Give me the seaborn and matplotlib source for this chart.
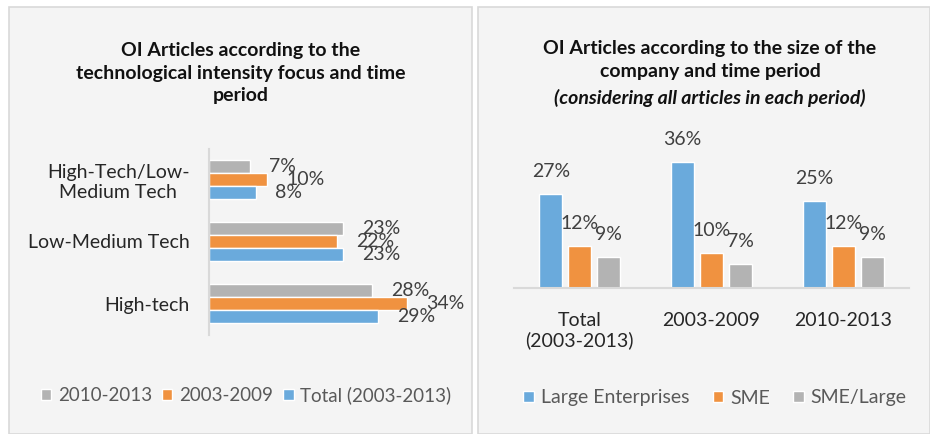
import numpy as np
import pandas as pd
import matplotlib.pyplot as plt
from matplotlib.patches import Rectangle
import seaborn as sns

# left chart: technological intensity
tech_cats = ["High-Tech/Low-\nMedium Tech", "Low-Medium Tech", "High-tech"]
tech_periods = ["2010-2013", "2003-2009", "Total (2003-2013)"]
tech_2010_2013 = [7, 23, 28]
tech_2003_2009 = [10, 22, 34]
tech_total = [8, 23, 29]

# right chart: company size
size_periods = ["Total\n(2003-2013)", "2003-2009", "2010-2013"]
size_groups = ["Large Enterprises", "SME", "SME/Large"]
size_large = [27, 36, 25]
size_sme = [12, 10, 12]
size_sme_large = [9, 7, 9]

BLUE = "#6AAADC"
ORANGE = "#F09240"
GRAY = "#B3B3B3"
BG = "#F4F4F4"

sns.set_theme(style="white")
plt.rcParams["font.family"] = ["Lato", "DejaVu Sans"]

W, H = 930, 434
fig = plt.figure(figsize=(W / 100, H / 100), dpi=100)
fig.patch.set_facecolor("white")

def px_rect(x0, y0, x1, y1):
    return [x0 / W, 1 - y1 / H, (x1 - x0) / W, (y1 - y0) / H]

# panel backgrounds
for x0, x1 in [(9, 472), (478, 930)]:
    fig.patches.append(Rectangle((x0 / W, 0), (x1 - x0) / W, 1 - 7 / H,
                                 transform=fig.transFigure, facecolor=BG,
                                 edgecolor="#D9D9D9", linewidth=1.2, zorder=-5))

# ---------------- left chart ----------------
df_tech = pd.DataFrame({
    "category": tech_cats * 3,
    "period": np.repeat(tech_periods, len(tech_cats)),
    "value": tech_2010_2013 + tech_2003_2009 + tech_total,
})

ax1 = fig.add_axes(px_rect(209, 148.5, 442, 334.5))
ax1.patch.set_alpha(0)
sns.barplot(data=df_tech, y="category", x="value", hue="period",
            hue_order=tech_periods, order=tech_cats,
            palette=[GRAY, ORANGE, BLUE], saturation=1, width=0.63,
            orient="h", ax=ax1, legend=True)
ax1.set_xlim(0, 40)
ax1.set_ylim(2.5, -0.5)
ax1.set_xlabel("")
ax1.set_ylabel("")
ax1.set_xticks([])
for s in ["top", "right", "bottom"]:
    ax1.spines[s].set_visible(False)
ax1.spines["left"].set_color("#D9D9D9")
ax1.spines["left"].set_linewidth(1.5)
ax1.tick_params(axis="y", length=0, pad=14, labelsize=14, labelcolor="#262626")
for lab in ax1.get_yticklabels():
    lab.set_multialignment("center")
for cont in ax1.containers:
    ax1.bar_label(cont, labels=[f"{v:.0f}%" for v in cont.datavalues],
                  padding=14, fontsize=14, color="#404040")

ax1.legend(loc="center", bbox_to_anchor=(246 / W, 1 - 395 / H),
           bbox_transform=fig.transFigure, ncol=3, frameon=False,
           handlelength=0.55, handleheight=0.55, handletextpad=0.35,
           columnspacing=0.55, fontsize=13.5, labelcolor="#595959")

fig.text(241 / W, 1 - 73 / H,
         "OI Articles according to the\ntechnological intensity focus and time\nperiod",
         ha="center", va="center", fontsize=14, fontweight="bold",
         color="#111111", linespacing=1.4)

# ---------------- right chart ----------------
df_size = pd.DataFrame({
    "period": size_periods * 3,
    "group": np.repeat(size_groups, len(size_periods)),
    "value": size_large + size_sme + size_sme_large,
})

ax2 = fig.add_axes(px_rect(514, 148, 909, 288))
ax2.patch.set_alpha(0)
sns.barplot(data=df_size, x="period", y="value", hue="group",
            hue_order=size_groups, order=size_periods,
            palette=[BLUE, ORANGE, GRAY], saturation=1, width=0.66, gap=0.2,
            ax=ax2, legend=True)
ax2.set_ylim(0, 40)
ax2.set_xlim(-0.5, 2.5)
ax2.set_xlabel("")
ax2.set_ylabel("")
ax2.set_yticks([])
for s in ["top", "right", "left"]:
    ax2.spines[s].set_visible(False)
ax2.spines["bottom"].set_color("#D9D9D9")
ax2.spines["bottom"].set_linewidth(1.5)
ax2.tick_params(axis="x", length=0, pad=17, labelsize=14, labelcolor="#262626")
for cont in ax2.containers:
    ax2.bar_label(cont, labels=[f"{v:.0f}%" for v in cont.datavalues],
                  padding=10, fontsize=14, color="#404040")

ax2.legend(loc="center", bbox_to_anchor=(715 / W, 1 - 398 / H),
           bbox_transform=fig.transFigure, ncol=3, frameon=False,
           handlelength=0.55, handleheight=0.55, handletextpad=0.35,
           columnspacing=1.2, fontsize=14, labelcolor="#595959")

fig.text(710 / W, 1 - 60 / H,
         "OI Articles according to the size of the\ncompany and time period",
         ha="center", va="center", fontsize=14, fontweight="bold",
         color="#111111", linespacing=1.4)
fig.text(710 / W, 1 - 98 / H, "(considering all articles in each period)",
         ha="center", va="center", fontsize=14, fontweight="bold",
         fontstyle="italic", color="#111111")

fig.savefig("out.png", dpi=100, facecolor=fig.get_facecolor())
